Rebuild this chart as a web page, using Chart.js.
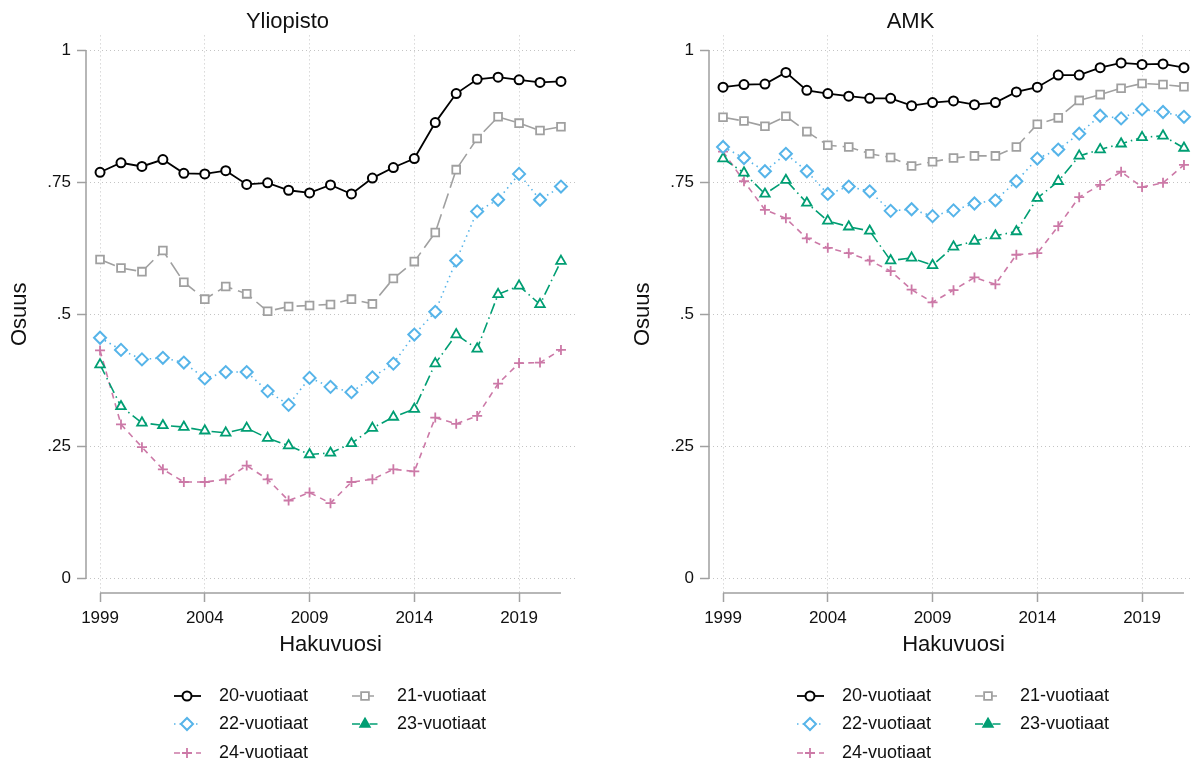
<!DOCTYPE html>
<html>
<head>
<meta charset="utf-8">
<script src="https://cdn.jsdelivr.net/npm/chart.js@4"></script>
<style>
  html, body { margin: 0; padding: 0; background: #fff; overflow: hidden; width: 1192px; height: 765px; }
  .wrap { position: absolute; top: 0; width: 623px; height: 765px; }
</style>
</head>
<body>
<div class="wrap" style="left:0"><canvas id="yliopisto" width="623" height="765"></canvas></div>
<div class="wrap" style="left:623px"><canvas id="amk" width="623" height="765"></canvas></div>
<script>
// years on the x axis
var years = [1999, 2000, 2001, 2002, 2003, 2004, 2005, 2006, 2007, 2008, 2009, 2010,
  2011, 2012, 2013, 2014, 2015, 2016, 2017, 2018, 2019, 2020, 2021];
var yearTicks = [1999, 2004, 2009, 2014, 2019];
var shareTicks = [0, 0.25, 0.5, 0.75, 1];
var shareTickLabels = ["0", ".25", ".5", ".75", "1"];
var seriesLabels = ["20-vuotiaat", "21-vuotiaat", "22-vuotiaat", "23-vuotiaat", "24-vuotiaat"];

// Yliopisto
var yo20 = [0.769, 0.787, 0.780, 0.793, 0.767, 0.766, 0.772, 0.746, 0.749, 0.735, 0.730, 0.745,
  0.728, 0.758, 0.778, 0.795, 0.863, 0.918, 0.945, 0.949, 0.944, 0.939, 0.941];
var yo21 = [0.604, 0.588, 0.581, 0.621, 0.561, 0.529, 0.553, 0.539, 0.506, 0.515, 0.517, 0.519,
  0.529, 0.520, 0.568, 0.600, 0.655, 0.774, 0.833, 0.874, 0.862, 0.848, 0.855];
var yo22 = [0.456, 0.433, 0.415, 0.418, 0.409, 0.379, 0.391, 0.391, 0.355, 0.329, 0.380, 0.363,
  0.353, 0.381, 0.407, 0.462, 0.505, 0.602, 0.695, 0.717, 0.766, 0.717, 0.742];
var yo23 = [0.405, 0.326, 0.295, 0.290, 0.287, 0.280, 0.276, 0.285, 0.266, 0.252, 0.235, 0.238,
  0.256, 0.285, 0.306, 0.321, 0.407, 0.462, 0.435, 0.538, 0.554, 0.519, 0.601];
var yo24 = [0.432, 0.292, 0.249, 0.207, 0.183, 0.183, 0.188, 0.214, 0.188, 0.148, 0.163, 0.143,
  0.183, 0.188, 0.207, 0.203, 0.305, 0.293, 0.308, 0.369, 0.408, 0.409, 0.433];

// AMK
var amk20 = [0.930, 0.935, 0.936, 0.958, 0.924, 0.918, 0.913, 0.909, 0.909, 0.895, 0.901, 0.904,
  0.897, 0.901, 0.921, 0.930, 0.953, 0.953, 0.967, 0.976, 0.973, 0.974, 0.967];
var amk21 = [0.873, 0.866, 0.856, 0.875, 0.846, 0.820, 0.817, 0.804, 0.797, 0.781, 0.789, 0.796,
  0.800, 0.800, 0.817, 0.860, 0.872, 0.905, 0.916, 0.928, 0.937, 0.935, 0.931];
var amk22 = [0.817, 0.796, 0.771, 0.804, 0.771, 0.728, 0.742, 0.733, 0.696, 0.699, 0.686, 0.697,
  0.710, 0.716, 0.752, 0.795, 0.812, 0.842, 0.876, 0.871, 0.888, 0.883, 0.874];
var amk23 = [0.795, 0.768, 0.728, 0.754, 0.711, 0.677, 0.666, 0.658, 0.602, 0.607, 0.593, 0.628,
  0.639, 0.649, 0.657, 0.720, 0.752, 0.800, 0.812, 0.823, 0.835, 0.838, 0.815];
var amk24 = [0.808, 0.752, 0.698, 0.682, 0.644, 0.626, 0.616, 0.602, 0.582, 0.547, 0.523, 0.546,
  0.570, 0.557, 0.613, 0.616, 0.667, 0.722, 0.745, 0.770, 0.741, 0.749, 0.783];

var FONT = "'Liberation Sans', Arial, sans-serif";
var TEXT = "#111111";
var AXIS = "#a0a0a0";

var looks = [
  { color: "#000000", dash: [], point: "circle", r: 4.5, lw: 1.8, pw: 2, legendFill: "#ffffff" },
  { color: "#a0a0a0", dash: [16, 6], point: "rect", r: 5.5, lw: 1.6, pw: 1.8, legendFill: "#ffffff" },
  { color: "#56b4e9", dash: [1.5, 4], point: "rectRot", r: 6, lw: 1.6, pw: 2, legendFill: "#ffffff" },
  { color: "#009e73", dash: [11, 4, 1.5, 4], point: "triangle", r: 5.5, lw: 1.6, pw: 1.8, legendFill: "#009e73" },
  { color: "#cc79a7", dash: [6, 5], point: "cross", r: 5, lw: 1.6, pw: 1.8, legendFill: "#cc79a7" },
];

// axis lines only across the data range, like the original
var axisLines = {
  id: "axisLines",
  beforeDatasetsDraw: function (chart) {
    var ctx = chart.ctx, a = chart.chartArea;
    var xs = chart.scales.x, ys = chart.scales.y;
    ctx.save();
    ctx.strokeStyle = AXIS;
    ctx.lineWidth = 1.5;
    ctx.beginPath();
    ctx.moveTo(a.left, ys.getPixelForValue(0));
    ctx.lineTo(a.left, ys.getPixelForValue(1));
    ctx.moveTo(xs.getPixelForValue(years[0]), a.bottom);
    ctx.lineTo(xs.getPixelForValue(years[years.length - 1]), a.bottom);
    ctx.stroke();
    ctx.restore();
  },
};

// two-column legend under the plot
var legendBox = {
  id: "legendBox",
  afterDraw: function (chart) {
    var ctx = chart.ctx;
    var cols = [174, 352];
    var rows = [696, 724, 753];
    ctx.save();
    chart.data.datasets.forEach(function (ds, i) {
      var lk = looks[i];
      var x0 = cols[i % 2], y = rows[Math.floor(i / 2)];
      ctx.strokeStyle = lk.color;
      ctx.lineWidth = lk.lw;
      ctx.setLineDash(lk.dash.length ? [Math.min(lk.dash[0], 8)].concat(lk.dash.slice(1)) : []);
      ctx.beginPath();
      ctx.moveTo(x0, y);
      ctx.lineTo(x0 + 27, y);
      ctx.stroke();
      ctx.setLineDash([]);
      ctx.fillStyle = lk.legendFill;
      ctx.lineWidth = lk.pw;
      Chart.helpers.drawPoint(ctx, { pointStyle: lk.point, radius: lk.r, borderWidth: lk.pw, rotation: 0 }, x0 + 13, y);
      ctx.fillStyle = TEXT;
      ctx.font = "18px " + FONT;
      ctx.textBaseline = "middle";
      ctx.textAlign = "left";
      ctx.fillText(ds.label, x0 + 45, y);
    });
    ctx.restore();
  },
};

function makeChart(id, title, seriesList) {
  var datasets = seriesList.map(function (vals, i) {
    var lk = looks[i];
    return {
      label: seriesLabels[i],
      data: years.map(function (yr, j) { return { x: yr, y: vals[j] }; }),
      borderColor: lk.color,
      borderWidth: lk.lw,
      borderDash: lk.dash,
      pointStyle: lk.point,
      pointRadius: lk.r,
      pointBorderColor: lk.color,
      pointBackgroundColor: "#ffffff",
      pointBorderWidth: lk.pw,
      tension: 0,
      fill: false,
    };
  });

  return new Chart(document.getElementById(id), {
    type: "line",
    data: { datasets: datasets },
    plugins: [axisLines, legendBox],
    options: {
      responsive: false,
      animation: false,
      devicePixelRatio: 1,
      clip: false,
      layout: { padding: { top: 0, left: 0, right: 48, bottom: 102 } },
      plugins: {
        legend: { display: false },
        tooltip: { enabled: false },
        title: {
          display: true,
          text: title,
          color: TEXT,
          font: { family: FONT, size: 22, weight: "normal" },
          padding: { top: 9, bottom: 0 },
        },
      },
      scales: {
        x: {
          type: "linear",
          min: 1998.33,
          max: 2021.67,
          afterBuildTicks: function (s) { s.ticks = yearTicks.map(function (v) { return { value: v }; }); },
          afterFit: function (s) { s.height = 70; },
          ticks: {
            autoSkip: false,
            maxRotation: 0,
            padding: 6,
            color: TEXT,
            font: { family: FONT, size: 17 },
            callback: function (v) { return String(v); },
          },
          grid: { color: "#c4c4c4", tickColor: AXIS, tickLength: 9, tickWidth: 1.5, lineWidth: 1 },
          border: { display: false, dash: [1, 3] },
          title: {
            display: true,
            text: "Hakuvuosi",
            color: TEXT,
            font: { family: FONT, size: 22 },
            padding: { top: 0, bottom: 5 },
          },
        },
        y: {
          min: -0.027,
          max: 1.028,
          afterBuildTicks: function (s) { s.ticks = shareTicks.map(function (v) { return { value: v }; }); },
          afterFit: function (s) { s.width = 86; },
          ticks: {
            padding: 6,
            color: TEXT,
            font: { family: FONT, size: 17 },
            callback: function (v) { return shareTickLabels[shareTicks.indexOf(v)]; },
          },
          grid: { color: "#c4c4c4", tickColor: AXIS, tickLength: 9, tickWidth: 1.5, lineWidth: 1 },
          border: { display: false, dash: [1, 3] },
          title: {
            display: true,
            text: "Osuus",
            color: TEXT,
            font: { family: FONT, size: 22 },
            padding: { top: 7, bottom: 0 },
          },
        },
      },
    },
  });
}

makeChart("yliopisto", "Yliopisto", [yo20, yo21, yo22, yo23, yo24]);
makeChart("amk", "AMK", [amk20, amk21, amk22, amk23, amk24]);
</script>
</body>
</html>
